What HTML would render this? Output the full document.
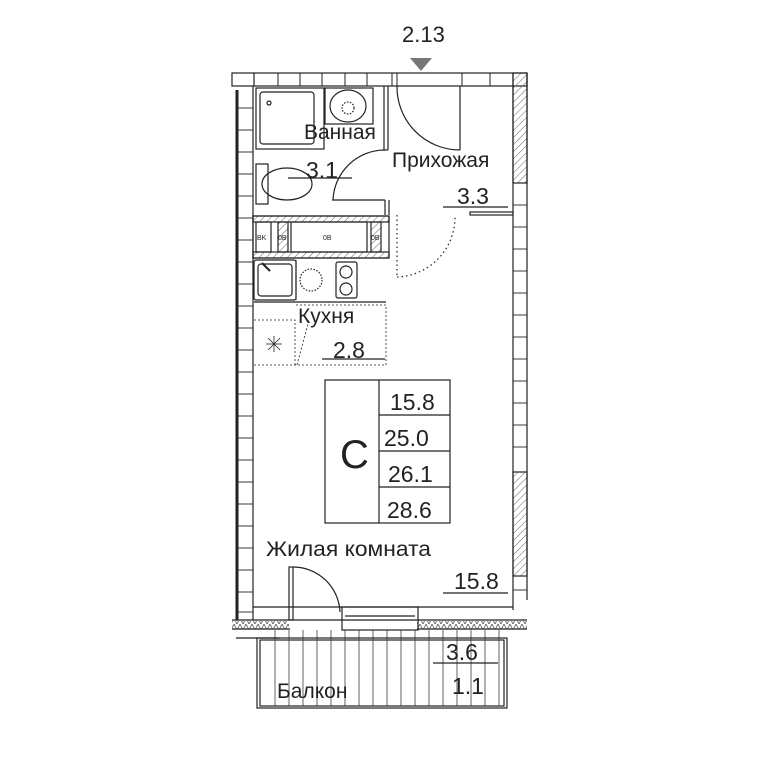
<!DOCTYPE html>
<html><head><meta charset="utf-8"><style>
html,body{margin:0;padding:0;background:#fff;}
svg{display:block;}
text{font-family:"Liberation Sans",sans-serif;fill:#222;}
</style></head><body>
<svg width="768" height="768" viewBox="0 0 768 768" xmlns="http://www.w3.org/2000/svg">
<defs>
<pattern id="h" width="5" height="5" patternUnits="userSpaceOnUse" patternTransform="rotate(45)">
<line x1="0" y1="0" x2="0" y2="5" stroke="#666" stroke-width="1"/></pattern>
<pattern id="z" width="6" height="6" patternUnits="userSpaceOnUse">
<path d="M0 0 L3 6 L6 0" fill="none" stroke="#555" stroke-width="0.8"/></pattern>
</defs>
<g stroke="#222" fill="none" stroke-width="1.2">
<polygon points="410,58 432,58 421,71" fill="#777" stroke="none"/>
<text x="402" y="42" font-size="22" stroke="none">2.13</text>
<rect x="232" y="73" width="295" height="13"/>
<line x1="254" y1="73" x2="254" y2="86"/>
<g stroke-width="1">
<line x1="278" y1="73" x2="278" y2="86"/><line x1="300" y1="73" x2="300" y2="86"/>
<line x1="322" y1="73" x2="322" y2="86"/><line x1="345" y1="73" x2="345" y2="86"/>
<line x1="367" y1="73" x2="367" y2="86"/><line x1="392" y1="73" x2="392" y2="86"/>
<line x1="397" y1="73" x2="397" y2="86"/><line x1="462" y1="73" x2="462" y2="86"/>
<line x1="490" y1="73" x2="490" y2="86"/>
</g>
<line x1="237" y1="90" x2="237" y2="620" stroke-width="3"/>
<line x1="253" y1="86" x2="253" y2="620"/>
<g stroke-width="0.9">
<line x1="238" y1="108" x2="253" y2="108"/><line x1="238" y1="130" x2="253" y2="130"/>
<line x1="238" y1="152" x2="253" y2="152"/><line x1="238" y1="174" x2="253" y2="174"/>
<line x1="238" y1="196" x2="253" y2="196"/><line x1="238" y1="218" x2="253" y2="218"/>
<line x1="238" y1="240" x2="253" y2="240"/><line x1="238" y1="262" x2="253" y2="262"/>
<line x1="238" y1="284" x2="253" y2="284"/><line x1="238" y1="306" x2="253" y2="306"/>
<line x1="238" y1="328" x2="253" y2="328"/><line x1="238" y1="350" x2="253" y2="350"/>
<line x1="238" y1="372" x2="253" y2="372"/><line x1="238" y1="394" x2="253" y2="394"/>
<line x1="238" y1="416" x2="253" y2="416"/><line x1="238" y1="438" x2="253" y2="438"/>
<line x1="238" y1="460" x2="253" y2="460"/><line x1="238" y1="482" x2="253" y2="482"/>
<line x1="238" y1="504" x2="253" y2="504"/><line x1="238" y1="526" x2="253" y2="526"/>
<line x1="238" y1="548" x2="253" y2="548"/><line x1="238" y1="570" x2="253" y2="570"/>
<line x1="238" y1="592" x2="253" y2="592"/><line x1="238" y1="612" x2="253" y2="612"/>
</g>
<line x1="513" y1="73" x2="513" y2="610"/>
<line x1="527" y1="73" x2="527" y2="600"/>
<rect x="513" y="73" width="14" height="110" fill="url(#h)"/>
<rect x="513" y="472" width="14" height="104" fill="url(#h)"/>
<g stroke-width="0.9">
<line x1="513" y1="205" x2="527" y2="205"/><line x1="513" y1="227" x2="527" y2="227"/>
<line x1="513" y1="249" x2="527" y2="249"/><line x1="513" y1="271" x2="527" y2="271"/>
<line x1="513" y1="293" x2="527" y2="293"/><line x1="513" y1="315" x2="527" y2="315"/>
<line x1="513" y1="337" x2="527" y2="337"/><line x1="513" y1="359" x2="527" y2="359"/>
<line x1="513" y1="381" x2="527" y2="381"/><line x1="513" y1="403" x2="527" y2="403"/>
<line x1="513" y1="425" x2="527" y2="425"/><line x1="513" y1="447" x2="527" y2="447"/>
<line x1="513" y1="590" x2="527" y2="590"/>
</g>
<line x1="253" y1="607" x2="513" y2="607"/>
<line x1="232" y1="620" x2="527" y2="620"/>
<rect x="232" y="621" width="57" height="8" fill="url(#z)" stroke="none"/>
<rect x="417" y="621" width="110" height="8" fill="url(#z)" stroke="none"/>
<line x1="232" y1="629" x2="290" y2="629"/><line x1="417" y1="629" x2="527" y2="629"/>
<rect x="342" y="607" width="76" height="23"/>
<line x1="345" y1="616" x2="415" y2="616"/>
<rect x="257" y="638" width="250" height="70"/>
<rect x="260" y="640" width="244" height="66"/>
<g stroke-width="0.7">
<line x1="275" y1="630" x2="275" y2="706"/><line x1="289" y1="630" x2="289" y2="706"/>
<line x1="303" y1="630" x2="303" y2="706"/><line x1="317" y1="630" x2="317" y2="706"/>
<line x1="331" y1="630" x2="331" y2="706"/><line x1="345" y1="630" x2="345" y2="706"/>
<line x1="359" y1="630" x2="359" y2="706"/><line x1="373" y1="630" x2="373" y2="706"/>
<line x1="387" y1="630" x2="387" y2="706"/><line x1="401" y1="630" x2="401" y2="706"/>
<line x1="415" y1="630" x2="415" y2="706"/><line x1="429" y1="630" x2="429" y2="706"/>
<line x1="443" y1="630" x2="443" y2="706"/><line x1="457" y1="630" x2="457" y2="706"/>
<line x1="471" y1="630" x2="471" y2="706"/><line x1="485" y1="630" x2="485" y2="706"/>
<line x1="499" y1="630" x2="499" y2="706"/>
</g>
<line x1="236" y1="638" x2="280" y2="638"/>
<rect x="289" y="567" width="4" height="53"/>
<path d="M293 567 A47 47 0 0 1 340 612"/>
<rect x="256" y="88" width="68" height="61"/>
<rect x="260" y="92" width="54" height="52" rx="3"/>
<circle cx="269" cy="103" r="2"/>
<rect x="325" y="88" width="48" height="36"/>
<ellipse cx="348" cy="106" rx="18" ry="16"/>
<circle cx="348" cy="108" r="6" stroke-dasharray="1.5 1.5"/>
<line x1="384" y1="86" x2="384" y2="150"/><line x1="388" y1="86" x2="388" y2="150"/>
<line x1="384" y1="150" x2="388" y2="150"/>
<rect x="256" y="164" width="12" height="40"/>
<ellipse cx="287" cy="184" rx="25" ry="16"/>
<line x1="288" y1="178" x2="352" y2="178"/>
<line x1="332" y1="200" x2="385" y2="200"/>
<path d="M333 200 A52 52 0 0 1 385 150"/>
<line x1="385" y1="200" x2="385" y2="215"/><line x1="389" y1="200" x2="389" y2="215"/>
<path d="M397 86 A63 63 0 0 0 460 150"/>
<line x1="460" y1="86" x2="460" y2="150"/>
<line x1="443" y1="207" x2="508" y2="207"/>
<rect x="470" y="212" width="43" height="3"/>
<path d="M397 215 L397 275" stroke-dasharray="1.5 3"/>
<path d="M397 277 A60 60 0 0 0 455 215" stroke-dasharray="1.5 3"/>
<rect x="253" y="216" width="136" height="42"/>
<rect x="253" y="216" width="136" height="6" fill="url(#h)"/>
<rect x="253" y="252" width="136" height="6" fill="url(#h)"/>
<rect x="256" y="222" width="15" height="30"/>
<rect x="278" y="222" width="10" height="30" fill="url(#h)"/>
<rect x="291" y="222" width="76" height="30"/>
<rect x="371" y="222" width="10" height="30" fill="url(#h)"/>
<rect x="254" y="260" width="42" height="40" rx="2"/>
<rect x="258" y="264" width="34" height="32" rx="3"/>
<line x1="262" y1="263" x2="270" y2="271" stroke-width="2"/>
<line x1="296" y1="260" x2="296" y2="300" stroke-dasharray="1.5 1.5"/>
<circle cx="311" cy="280" r="11" stroke-dasharray="1.5 1.5"/>
<rect x="336" y="262" width="21" height="36" rx="2"/>
<circle cx="346" cy="272" r="6"/><circle cx="346" cy="289" r="6"/>
<line x1="254" y1="302" x2="386" y2="302"/>
<path d="M296 305 L386 305 L386 365 L254 365" stroke-dasharray="2 2" stroke-width="0.8"/>
<path d="M254 320 L295 320 L295 365" stroke-dasharray="2 2" stroke-width="0.8"/>
<path d="M297 365 L309 320" stroke-dasharray="2 2" stroke-width="0.8"/>
<g stroke-width="0.8"><line x1="266" y1="344" x2="282" y2="344"/><line x1="274" y1="336" x2="274" y2="352"/>
<line x1="268" y1="338" x2="280" y2="350"/><line x1="280" y1="338" x2="268" y2="350"/></g>
<line x1="322" y1="359" x2="385" y2="359"/>
<rect x="325" y="380" width="125" height="143"/>
<line x1="379" y1="380" x2="379" y2="523"/>
<line x1="379" y1="415" x2="450" y2="415"/>
<line x1="379" y1="451" x2="450" y2="451"/>
<line x1="379" y1="487" x2="450" y2="487"/>
<line x1="443" y1="593" x2="508" y2="593"/>
<line x1="433" y1="663" x2="498" y2="663"/>
</g>
<g font-size="21" stroke="none">
<text x="304" y="139">Ванная</text>
<text x="306" y="178" font-size="23">3.1</text>
<text x="392" y="167">Прихожая</text>
<text x="457" y="204" font-size="23">3.3</text>
<text x="298" y="323">Кухня</text>
<text x="333" y="358" font-size="23">2.8</text>
<text x="390" y="410" font-size="23">15.8</text>
<text x="384" y="446" font-size="23">25.0</text>
<text x="388" y="482" font-size="23">26.1</text>
<text x="387" y="518" font-size="23">28.6</text>
<text x="266" y="556" textLength="165" lengthAdjust="spacingAndGlyphs">Жилая комната</text>
<text x="454" y="589" font-size="23">15.8</text>
<text x="446" y="660" font-size="23">3.6</text>
<text x="452" y="694" font-size="23">1.1</text>
<text x="277" y="698">Балкон</text>
<text x="340" y="468" font-size="40">C</text>
</g>
<g font-size="7" stroke="none"><text x="257" y="240">BK</text><text x="278" y="240">0B</text><text x="323" y="240">0B</text><text x="371" y="240">0B</text></g>
</svg>
</body></html>
